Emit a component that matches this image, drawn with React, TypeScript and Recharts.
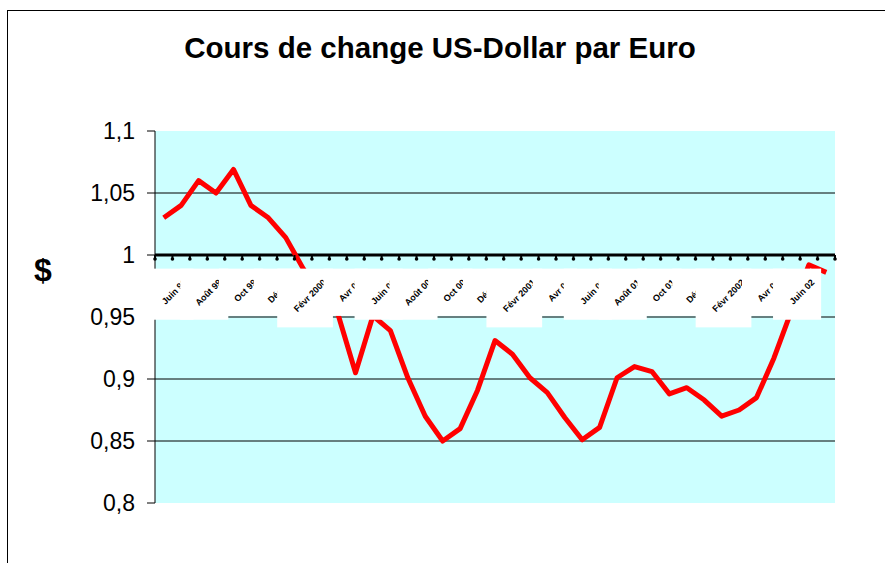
import React from 'react';
import {
  CartesianGrid,
  Line,
  LineChart,
  ReferenceDot,
  ReferenceLine,
  XAxis,
  YAxis,
} from 'recharts';

// mois (juin 1999 -> août 2002)
const months = [
  'Juin 99', 'Juil 99', 'Août 99', 'Sept 99', 'Oct 99', 'Nov 99', 'Déc 99',
  'Janv 00', 'Févr 00', 'Mars 00', 'Avr 00', 'Mai 00', 'Juin 00', 'Juil 00',
  'Août 00', 'Sept 00', 'Oct 00', 'Nov 00', 'Déc 00', 'Janv 01', 'Févr 01',
  'Mars 01', 'Avr 01', 'Mai 01', 'Juin 01', 'Juil 01', 'Août 01', 'Sept 01',
  'Oct 01', 'Nov 01', 'Déc 01', 'Janv 02', 'Févr 02', 'Mars 02', 'Avr 02',
  'Mai 02', 'Juin 02', 'Juil 02', 'Août 02',
];

// US-Dollar pour 1 Euro
const rates = [
  1.03, 1.04, 1.06, 1.05, 1.069, 1.04, 1.03, 1.014, 0.989, 0.968,
  0.952, 0.905, 0.951, 0.939, 0.901, 0.87, 0.85, 0.86, 0.891, 0.931,
  0.92, 0.901, 0.889, 0.869, 0.851, 0.861, 0.901, 0.91, 0.906, 0.888,
  0.893, 0.883, 0.87, 0.875, 0.885, 0.917, 0.955, 0.992, 0.986,
];

// étiquettes de l'axe des catégories (un mois sur deux)
const axisLabels = [
  'Juin 99', 'Août 99', 'Oct 99', 'Déc 99', 'Févr 2000', 'Avr 00', 'Juin 00',
  'Août 00', 'Oct 00', 'Déc 00', 'Févr 2001', 'Avr 01', 'Juin 01', 'Août 01',
  'Oct 01', 'Déc 01', 'Févr 2002', 'Avr 02', 'Juin 02',
];

const yTicks = [0.8, 0.85, 0.9, 0.95, 1, 1.05, 1.1];
const gridValues = [0.85, 0.9, 0.95, 1.05];

const data = months.map((m, i) => ({ i, m, rate: rates[i] }));

const AxisTick = (props: any) => {
  const { cx, cy } = props;
  return (
    <g>
      <line x1={cx} y1={cy} x2={cx} y2={cy + 4} stroke="#000" strokeWidth={2} />
      <circle cx={cx} cy={cy + 4} r={1.8} fill="#000" />
    </g>
  );
};

const AxisLabel = (props: any) => {
  const { cx, cy, text } = props;
  const fs = 9;
  const w = text.length * 5.4;
  const k = 0.7071;
  const ex = cx + 15;
  const ey = cy + 28;
  const side = k * (w + fs);
  return (
    <g>
      <rect x={ex - side - 9} y={ey - k * fs - 8} width={side + 15} height={side + 18} fill="#fff" />
      <text
        x={ex}
        y={ey}
        transform={`rotate(-45 ${ex} ${ey})`}
        textAnchor="end"
        fontSize={fs}
        fontWeight="bold"
        fontFamily="Arial, 'Liberation Sans'"
        fill="#000"
      >
        {text}
      </text>
    </g>
  );
};

const App = () => {
  return (
    <div style={{ position: 'absolute', left: 0, top: 0, width: 885, height: 563, overflow: 'hidden', background: '#fff' }}>
      <div style={{ position: 'absolute', left: 7, top: 10, width: 900, height: 600, border: '1px solid #000' }} />
      <div
        style={{
          position: 'absolute', left: 0, top: 33, width: 880, textAlign: 'center',
          fontFamily: "Arial, 'Liberation Sans'", fontWeight: 'bold', fontSize: 29.5, lineHeight: '29px',
        }}
      >
        Cours de change US-Dollar par Euro
      </div>
      <div
        style={{
          position: 'absolute', left: 23, top: 254, width: 40, textAlign: 'center',
          fontFamily: "Arial, 'Liberation Sans'", fontWeight: 'bold', fontSize: 32, lineHeight: '32px',
        }}
      >
        $
      </div>
      <div style={{ position: 'absolute', left: 0, top: 0 }}>
        <LineChart width={885} height={563} data={data} margin={{ top: 131, right: 50, bottom: 60, left: 0 }}>
          <CartesianGrid fill="#CCFFFF" horizontal={false} vertical={false} stroke="none" />
          <XAxis type="number" dataKey="i" domain={[-0.5, 38.5]} hide />
          <YAxis
            width={155}
            domain={[0.8, 1.1]}
            ticks={yTicks}
            interval={0}
            tickFormatter={(v: number) => String(v).replace('.', ',')}
            tick={{ fill: '#000', fontSize: 23, fontFamily: "Arial, 'Liberation Sans'" }}
            axisLine={{ stroke: '#000' }}
            tickLine={{ stroke: '#000' }}
            tickSize={8}
            tickMargin={12}
            allowDataOverflow
          />
          {gridValues.map((v) => (
            <ReferenceLine key={v} y={v} stroke="#000" strokeWidth={1} />
          ))}
          <ReferenceLine y={1} stroke="#000" strokeWidth={3} />
          {data.concat([{ i: 39, m: '', rate: 0 }]).map((d) => (
            <ReferenceDot key={'t' + d.i} x={d.i - 0.5} y={1} shape={AxisTick} />
          ))}
          <Line
            type="linear"
            dataKey="rate"
            stroke="#FF0000"
            strokeWidth={5}
            strokeLinejoin="round"
            dot={false}
            isAnimationActive={false}
          />
          {axisLabels.map((t, k) => (
            <ReferenceDot
              key={t}
              x={2 * k + 0.5}
              y={1}
              shape={(p: any) => <AxisLabel {...p} text={t} />}
            />
          ))}
        </LineChart>
      </div>
    </div>
  );
};

export default App;
